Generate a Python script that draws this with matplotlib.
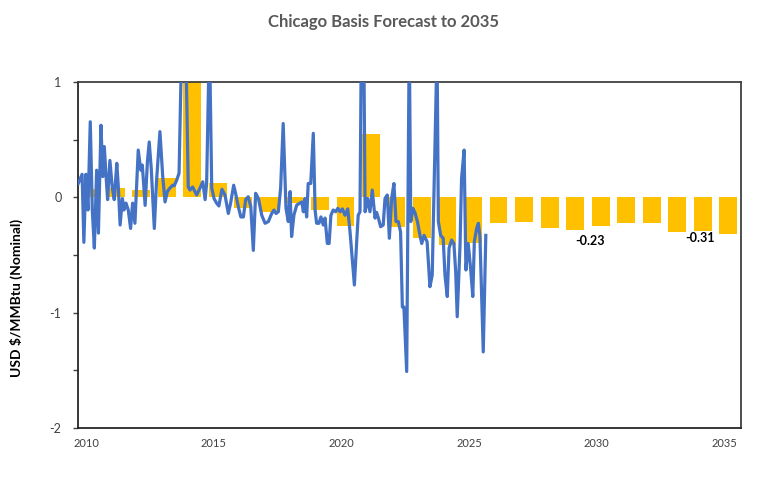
import matplotlib
matplotlib.use("Agg")
import matplotlib.pyplot as plt
import matplotlib.transforms as mtransforms
from matplotlib.ticker import FixedLocator, NullFormatter

# ---------------- data ----------------
bar_years = list(range(2010, 2036))
bar_values = [0.07, 0.08, 0.06, 0.17, 1.2, 0.12, -0.09, -0.13, -0.05, -0.11,
              -0.25, 0.55, -0.26, -0.35, -0.41, -0.40, -0.22, -0.21, -0.27, -0.28,
              -0.25, -0.22, -0.225, -0.30, -0.29, -0.32]

# monthly history (decimal year, value)
line_t = [2009.53, 2009.68, 2009.75, 2009.83, 2009.91, 2010.00, 2010.08, 2010.16, 2010.25, 2010.32,
          2010.42, 2010.49, 2010.55, 2010.62, 2010.68, 2010.77, 2010.86, 2010.94, 2011.04, 2011.10,
          2011.17, 2011.26, 2011.32, 2011.40, 2011.49, 2011.58, 2011.66, 2011.75, 2011.88, 2011.98,
          2012.04, 2012.15, 2012.24, 2012.31, 2012.39, 2012.51, 2012.60, 2012.73, 2012.84, 2012.93,
          2013.02, 2013.12, 2013.23, 2013.29, 2013.39, 2013.48, 2013.67, 2013.84, 2013.91, 2014.01,
          2014.17, 2014.30, 2014.41, 2014.50, 2014.56, 2014.67, 2014.76, 2014.85, 2014.95, 2015.04,
          2015.16, 2015.28, 2015.41, 2015.50, 2015.62, 2015.70, 2015.80, 2015.90, 2016.00, 2016.09,
          2016.19, 2016.29, 2016.39, 2016.48, 2016.59, 2016.72, 2016.85, 2016.98, 2017.11, 2017.20,
          2017.28, 2017.37, 2017.46, 2017.56, 2017.67, 2017.76, 2017.83, 2017.89, 2017.98, 2018.09,
          2018.22, 2018.29, 2018.35, 2018.41, 2018.48, 2018.54, 2018.64, 2018.74, 2018.81, 2018.87,
          2018.96, 2019.04, 2019.13, 2019.20, 2019.29, 2019.36, 2019.43, 2019.52, 2019.62, 2019.70,
          2019.79, 2019.88, 2019.98, 2020.09, 2020.18, 2020.35, 2020.44, 2020.50, 2020.57, 2020.67,
          2020.77, 2020.87, 2020.96, 2021.05, 2021.16, 2021.22, 2021.29, 2021.38, 2021.48, 2021.55,
          2021.64, 2021.72, 2021.81, 2021.90, 2021.98, 2022.07, 2022.16, 2022.23, 2022.29, 2022.40,
          2022.50, 2022.56, 2022.64, 2022.72, 2022.82, 2022.92, 2022.99, 2023.08, 2023.20, 2023.31,
          2023.40, 2023.59, 2023.64, 2023.73, 2023.83, 2023.90, 2023.99, 2024.06, 2024.16, 2024.25,
          2024.32, 2024.38, 2024.49, 2024.55, 2024.65, 2024.72, 2024.81, 2024.91, 2024.99, 2025.05,
          2025.14, 2025.21, 2025.27, 2025.40, 2025.50]
line_v = [0.12, 0.20, -0.39, 0.20, -0.11, 0.655, -0.11, -0.44, 0.235, -0.31,
          0.625, 0.18, 0.44, 0.18, -0.02, 0.32, 0.09, -0.02, 0.295, 0.09,
          -0.24, -0.01, -0.11, -0.05, -0.11, -0.27, -0.05, -0.225, 0.41, 0.235,
          0.28, -0.07, 0.31, 0.48, 0.25, -0.27, 0.15, 0.57, 0.18, -0.04,
          0.05, 0.08, 0.105, 0.10, 0.15, 0.21, 2.3, 0.09, 0.063, 0.09,
          0.02, 0.08, 0.135, -0.02, 0.12, 1.4, 0.08, -0.01, -0.05, -0.075,
          0.07, 0.02, -0.14, -0.05, 0.105, 0.03, -0.08, -0.17, -0.17, -0.02,
          0.005, -0.08, -0.46, 0.035, -0.01, -0.155, -0.225, -0.21, -0.14, -0.11,
          -0.14, -0.125, 0.08, 0.64, -0.095, -0.21, 0.05, -0.34, -0.155, -0.067,
          -0.05, -0.04, -0.125, -0.01, -0.17, 0.12, 0.12, 0.555, -0.11, -0.225,
          -0.225, -0.17, -0.24, -0.18, -0.40, -0.40, -0.155, -0.11, -0.125, -0.095,
          -0.125, -0.10, -0.155, -0.10, -0.30, -0.76, -0.385, -0.155, -0.125, 2.7,
          -0.125, -0.01, -0.125, 0.063, -0.18, -0.13, -0.18, -0.255, -0.24, -0.01,
          0.02, -0.355, -0.01, 0.12, -0.21, -0.21, -0.30, -0.95, -0.95, -1.51,
          1.4, -0.21, -0.095, -0.13, -0.21, -0.33, -0.40, -0.33, -0.385, -0.775,
          -0.675, 1.3, -0.21, -0.33, -0.355, -0.675, -0.86, -0.44, -0.37, -0.40,
          -0.645, -1.035, -0.41, 0.165, 0.41, -0.63, -0.40, -0.63, -0.86, -0.385,
          -0.27, -0.225, -0.34, -1.34, -0.33]

x_tick_years = [2010, 2015, 2020, 2025, 2030, 2035]
y_tick_values = [-2, -1, 0, 1]
y_minor_values = [-1.5, -0.5, 0.5]

annotations = [("-0.23", 2029.58, -0.376), ("-0.31", 2033.89, -0.35)]

title_text = "Chicago Basis Forecast to 2035"
ylabel_text = "USD $/MMBtu (Nominal)"

# ---------------- plot ----------------
plt.rcParams['font.family'] = ['Lato', 'DejaVu Sans']

fig = plt.figure(figsize=(7.68, 4.8), dpi=100)
ax = fig.add_axes([77.5 / 768, 1 - 428 / 480, (741 - 77.5) / 768, (428 - 82) / 480])

ax.bar(bar_years, bar_values, width=0.7, color='#FFC000', zorder=2)
ax.plot(line_t, line_v, color='#4472C4', lw=2.3, zorder=3, solid_joinstyle='round')

ax.set_xlim(2009.5, 2035.5)
ax.set_ylim(-2, 1)

ax.set_xticks(x_tick_years)
ax.set_xticklabels([str(y) for y in x_tick_years])
ax.tick_params(axis='x', length=0, pad=7, labelsize=8, labelcolor='#404040')
offset = mtransforms.ScaledTranslation(-4 / 100, 0, fig.dpi_scale_trans)
for lab in ax.get_xticklabels():
    lab.set_transform(lab.get_transform() + offset)

ax.yaxis.set_major_locator(FixedLocator(y_tick_values))
ax.set_yticklabels([str(v) for v in y_tick_values])
ax.yaxis.set_minor_locator(FixedLocator(y_minor_values))
ax.yaxis.set_minor_formatter(NullFormatter())
ax.tick_params(axis='y', which='both', direction='out', length=3.5, width=1,
               color='#404040', pad=8, labelsize=9, labelcolor='#404040')

for side in ['left', 'bottom']:
    ax.spines[side].set_color('#262626')
    ax.spines[side].set_linewidth(1.3)
for side in ['top', 'right']:
    ax.spines[side].set_color('#404040')
    ax.spines[side].set_linewidth(1.3)

for txt, x, y in annotations:
    ax.text(x, y, txt, ha='center', va='center', fontsize=9, fontweight='bold',
            color='black', zorder=4)

fig.text(384 / 768, 1 - 22 / 480, title_text, ha='center', va='center',
         fontsize=12, fontweight='bold', color='#595959')
fig.text(16 / 768, 1 - 298 / 480, ylabel_text, ha='center', va='center',
         rotation=90, fontsize=10, fontweight='bold', color='black')

fig.savefig('out.png', dpi=100, facecolor='white')
